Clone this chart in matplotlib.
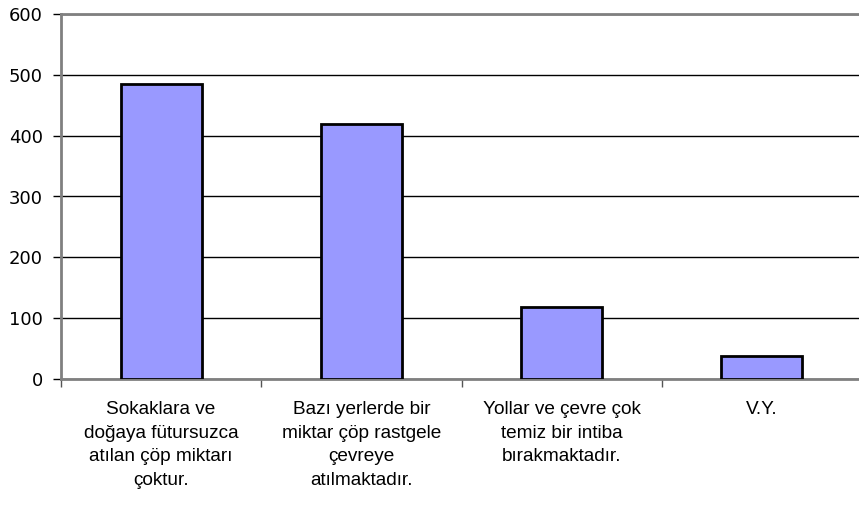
import matplotlib
matplotlib.use("Agg")
import matplotlib.pyplot as plt
import numpy as np

categories = [
    "Sokaklara ve\ndoğaya fütursuzca\natılan çöp miktarı\nçoktur.",
    "Bazı yerlerde bir\nmiktar çöp rastgele\nçevreye\natılmaktadır.",
    "Yollar ve çevre çok\ntemiz bir intiba\nbırakmaktadır.",
    "V.Y.",
]
values = [485, 419, 118, 38]
yticks = [0, 100, 200, 300, 400, 500, 600]

plt.rcParams['font.family'] = ['Liberation Sans', 'DejaVu Sans']

fig = plt.figure(figsize=(8.59, 5.11), dpi=100)
ax = fig.add_axes([61/859, 1-379/511, 1.0 - 61/859 + 3/859, (379-14)/511])

x = np.arange(len(values))
ax.bar(x, values, width=0.405, color='#9999FF', edgecolor='black', linewidth=2, zorder=3)

ax.set_xlim(-0.5, len(values) - 0.5)
ax.set_ylim(0, 600)
ax.set_yticks(yticks)
ax.set_yticklabels([str(t) for t in yticks], fontsize=13, family='DejaVu Sans')
ax.yaxis.grid(True, color='black', linewidth=1, zorder=0)
ax.set_axisbelow(True)

ax.set_xticks(np.arange(len(values) + 1) - 0.5, minor=True)
ax.set_xticks(x)
ax.set_xticklabels(categories, fontsize=13.7, linespacing=1.5, ha='center', va='top')
ax.tick_params(axis='x', which='major', length=0, pad=16)
ax.tick_params(axis='x', which='minor', length=6, width=1, color='#555555', direction='out')
ax.tick_params(axis='y', length=6, width=1, color='black', direction='out', pad=7)

for s in ['left', 'bottom', 'top']:
    ax.spines[s].set_color('#808080')
    ax.spines[s].set_linewidth(2)
ax.spines['right'].set_visible(False)

fig.savefig('out.png', dpi=100)
